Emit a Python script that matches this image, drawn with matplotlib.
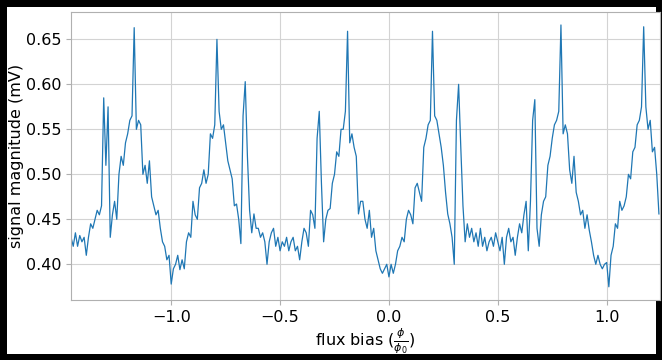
import numpy as np
import matplotlib
matplotlib.use("Agg")
from matplotlib import pyplot as plt

# signal, one value every 0.01 of flux bias
flux_start = -1.46
flux_stop = 1.24

signal_a = [0.43, 0.42, 0.435, 0.42, 0.432, 0.425, 0.43, 0.41, 0.43, 0.445,
            0.44, 0.45, 0.46, 0.455, 0.465, 0.585, 0.51, 0.575, 0.43, 0.455,
            0.47, 0.45, 0.50, 0.52, 0.51, 0.535, 0.545, 0.56, 0.565, 0.663,
            0.55, 0.56, 0.555, 0.50, 0.51, 0.49, 0.515, 0.475, 0.465, 0.455,
            0.46, 0.44, 0.425, 0.42, 0.405, 0.41]
signal_b = [0.378, 0.395, 0.40, 0.41, 0.394, 0.405, 0.395, 0.425, 0.435, 0.43,
            0.47, 0.455, 0.45, 0.485, 0.49, 0.505, 0.49, 0.50, 0.545, 0.54,
            0.555, 0.65, 0.57, 0.55, 0.555, 0.535, 0.515, 0.505, 0.495, 0.465,
            0.467, 0.45, 0.423, 0.565, 0.603, 0.52, 0.46, 0.435, 0.456, 0.44,
            0.44, 0.43, 0.435, 0.425]
signal_c = [0.40, 0.425, 0.435, 0.44, 0.42, 0.43, 0.415, 0.425, 0.42, 0.43,
            0.415, 0.425, 0.43, 0.415, 0.42, 0.405, 0.425, 0.44, 0.435, 0.42,
            0.46, 0.455, 0.44, 0.54, 0.57, 0.49, 0.425, 0.45, 0.46, 0.462,
            0.49, 0.50, 0.525, 0.52, 0.55, 0.55, 0.57, 0.659, 0.535, 0.545,
            0.53, 0.52, 0.456, 0.47, 0.47]
signal_d = [0.45, 0.44, 0.46, 0.43, 0.44, 0.415, 0.405, 0.395, 0.39, 0.395,
            0.40, 0.386, 0.40, 0.39, 0.40, 0.415, 0.42, 0.43, 0.425, 0.45,
            0.46, 0.455, 0.445, 0.485, 0.49, 0.48, 0.47, 0.53, 0.54, 0.555,
            0.56, 0.659, 0.565, 0.56, 0.545, 0.53, 0.51, 0.48, 0.456, 0.445,
            0.43, 0.40, 0.56, 0.60, 0.53]
signal_e = [0.465, 0.425, 0.445, 0.43, 0.44, 0.425, 0.435, 0.42, 0.44, 0.42,
            0.43, 0.415, 0.425, 0.43, 0.42, 0.435, 0.425, 0.415, 0.43, 0.40,
            0.43, 0.44, 0.425, 0.43, 0.41, 0.43, 0.445, 0.435, 0.455, 0.47,
            0.415, 0.47, 0.56, 0.583, 0.44, 0.42, 0.455, 0.47, 0.475, 0.51,
            0.52, 0.54, 0.555, 0.56, 0.57]
signal_f = [0.666, 0.545, 0.555, 0.545, 0.505, 0.49, 0.52, 0.48, 0.47, 0.455,
            0.46, 0.44, 0.455, 0.438, 0.425, 0.41, 0.40, 0.41, 0.40, 0.395,
            0.40, 0.402, 0.375, 0.41, 0.42, 0.445, 0.44, 0.47, 0.46, 0.465,
            0.475, 0.50, 0.495, 0.525, 0.53, 0.555, 0.56, 0.575, 0.664, 0.575,
            0.55, 0.56, 0.525, 0.53, 0.50, 0.456]

signal = np.array(signal_a + signal_b + signal_c + signal_d + signal_e + signal_f)
flux = np.linspace(flux_start, flux_stop, len(signal))

fig = plt.figure(figsize=(6.62, 3.6), dpi=100)
fig.patch.set_edgecolor("black")
fig.patch.set_linewidth(8)

ax = fig.add_axes([0.107, 0.167, 0.89, 0.8])
ax.plot(flux, signal, color="#1f77b4", linewidth=0.9)

ax.set_xlim(-1.461, 1.245)
ax.grid(True, color="#d3d3d3", linewidth=0.8)
ax.set_axisbelow(True)
for s in ax.spines.values():
    s.set_color("#b0b0b0")
ax.tick_params(labelsize=11.5, color="#b0b0b0", length=3.5)

ax.set_xlabel(r"flux bias ($\frac{\phi}{\phi_0}$)", fontsize=11.5, labelpad=1)
ax.set_ylabel("signal magnitude (mV)", fontsize=11.5, labelpad=1)

fig.savefig("out.png", dpi=100, edgecolor=fig.get_edgecolor())
